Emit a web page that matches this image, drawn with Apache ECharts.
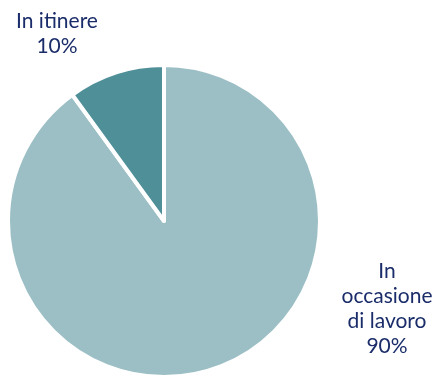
<!DOCTYPE html>
<html>
<head>
<meta charset="utf-8">
<script src="https://cdn.jsdelivr.net/npm/echarts@6/dist/echarts.min.js"></script>
<style>
  html, body { margin: 0; padding: 0; background: #fff; }
  #chart { width: 438px; height: 376px; }
</style>
</head>
<body>
<div id="chart"></div>
<script>
const categories = ['In\noccasione\ndi lavoro', 'In itinere'];
const values = [90, 10];
const colors = ['#9bbfc5', '#4f8f98'];

// label anchor points (centre of each text block)
const labelPos = [
  { x: 387, y: 309 },
  { x: 57, y: 34 }
];

const chart = echarts.init(document.getElementById('chart'));

chart.setOption({
  animation: false,
  series: [
    {
      type: 'pie',
      center: [164, 221],
      radius: [0, 156],
      startAngle: 90,
      clockwise: true,
      data: categories.map((name, i) => ({
        name: name,
        value: values[i],
        itemStyle: { color: colors[i] }
      })),
      itemStyle: {
        borderColor: '#ffffff',
        borderWidth: 4
      },
      label: {
        show: true,
        position: 'outside',
        formatter: '{b}\n{d}%',
        color: '#1a2d6a',
        fontFamily: 'Lato',
        fontSize: 21,
        lineHeight: 25,
        align: 'center',
        overflow: 'none',
        width: 200
      },
      labelLine: { show: false },
      labelLayout: function (params) {
        const p = labelPos[params.dataIndex];
        return {
          x: p.x,
          y: p.y,
          align: 'center',
          verticalAlign: 'middle'
        };
      }
    }
  ]
});
</script>
</body>
</html>
